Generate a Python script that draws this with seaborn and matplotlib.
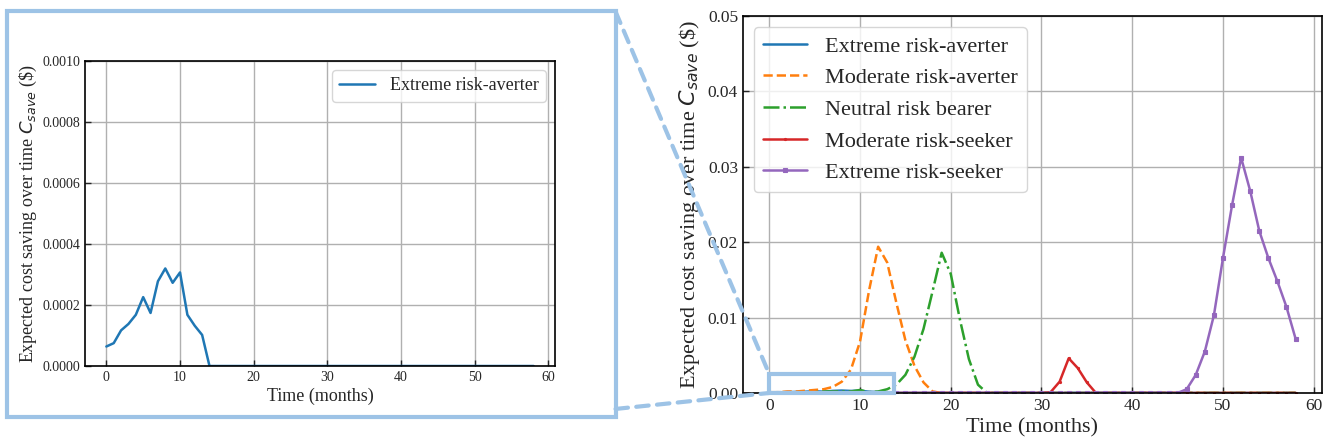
import matplotlib
matplotlib.use("Agg")
import matplotlib.pyplot as plt
from matplotlib.patches import Rectangle, ConnectionPatch
import seaborn as sns

sns.set_style("white")
plt.rcParams['font.family'] = ['Liberation Serif', 'DejaVu Sans']
plt.rcParams['mathtext.fontset'] = 'dejavusans'

months = list(range(59))

extreme_averter = [0.000064, 0.000075, 0.000117, 0.000138, 0.000168, 0.000226, 0.000174, 0.000278,
                   0.000320, 0.000273, 0.000307, 0.000168, 0.000132, 0.000102, 0.0, 0.0,
                   0.0, 0.0, 0.0, 0.0, 0.0, 0.0, 0.0, 0.0, 0.0, 0.0, 0.0, 0.0, 0.0, 0.0,
                   0.0, 0.0, 0.0, 0.0, 0.0, 0.0, 0.0, 0.0, 0.0, 0.0, 0.0, 0.0, 0.0, 0.0,
                   0.0, 0.0, 0.0, 0.0, 0.0, 0.0, 0.0, 0.0, 0.0, 0.0, 0.0, 0.0, 0.0, 0.0, 0.0]
moderate_averter = [0.0001, 0.0001, 0.0002, 0.0002, 0.0003, 0.0004, 0.0005, 0.0008, 0.0015, 0.0031,
                    0.0068, 0.0136, 0.0194, 0.0173, 0.0120, 0.0070, 0.0036, 0.0014, 0.0002, 0.0,
                    0.0, 0.0, 0.0, 0.0, 0.0, 0.0, 0.0, 0.0, 0.0, 0.0,
                    0.0, 0.0, 0.0, 0.0, 0.0, 0.0, 0.0, 0.0, 0.0, 0.0,
                    0.0, 0.0, 0.0, 0.0, 0.0, 0.0, 0.0, 0.0, 0.0, 0.0,
                    0.0, 0.0, 0.0, 0.0, 0.0, 0.0, 0.0, 0.0, 0.0]
neutral_bearer = [0.0001, 0.0001, 0.0001, 0.0001, 0.0001, 0.0001, 0.0002, 0.0002, 0.0002, 0.0002,
                  0.0004, 0.0001, 0.0002, 0.0005, 0.0011, 0.0024, 0.0048, 0.0085, 0.0135, 0.0186,
                  0.0158, 0.0098, 0.0045, 0.0011, 0.0, 0.0, 0.0, 0.0, 0.0, 0.0,
                  0.0, 0.0, 0.0, 0.0, 0.0, 0.0, 0.0, 0.0, 0.0, 0.0,
                  0.0, 0.0, 0.0, 0.0, 0.0, 0.0, 0.0, 0.0, 0.0, 0.0,
                  0.0, 0.0, 0.0, 0.0, 0.0, 0.0, 0.0, 0.0, 0.0]
moderate_seeker = [0.0, 0.0, 0.0, 0.0, 0.0, 0.0, 0.0, 0.0, 0.0, 0.0,
                   0.0, 0.0, 0.0, 0.0, 0.0, 0.0, 0.0, 0.0, 0.0, 0.0,
                   0.0, 0.0, 0.0, 0.0, 0.0, 0.0, 0.0, 0.0, 0.0, 0.0,
                   0.0, 0.0001, 0.0015, 0.0046, 0.0033, 0.0014, 0.0, 0.0, 0.0, 0.0,
                   0.0, 0.0, 0.0, 0.0, 0.0, 0.0, 0.0, 0.0, 0.0, 0.0,
                   0.0, 0.0, 0.0, 0.0, 0.0, 0.0, 0.0, 0.0, 0.0]
extreme_seeker = [0.0, 0.0, 0.0, 0.0, 0.0, 0.0, 0.0, 0.0, 0.0, 0.0,
                  0.0, 0.0, 0.0, 0.0, 0.0, 0.0, 0.0, 0.0, 0.0, 0.0,
                  0.0, 0.0, 0.0, 0.0, 0.0, 0.0, 0.0, 0.0, 0.0, 0.0,
                  0.0, 0.0, 0.0, 0.0, 0.0, 0.0, 0.0, 0.0, 0.0, 0.0,
                  0.0, 0.0, 0.0, 0.0, 0.0, 0.0, 0.0005, 0.0024, 0.0055, 0.0103,
                  0.0179, 0.0249, 0.0312, 0.0268, 0.0215, 0.0179, 0.0148, 0.0114, 0.0072]

labels = ["Extreme risk-averter", "Moderate risk-averter", "Neutral risk bearer",
          "Moderate risk-seeker", "Extreme risk-seeker"]
colors = ["#1f77b4", "#ff7f0e", "#2ca02c", "#d62728", "#9467bd"]
styles = ["-", "--", "-.", "-", "-"]
markers = [None, None, None, ".", "s"]
msizes = [0, 0, 0, 3, 3.5]
series = [extreme_averter, moderate_averter, neutral_bearer, moderate_seeker, extreme_seeker]

zoom_box = (13.7, 0.0025)  # inset window width (months) and height
box_color = "#9dc3e6"

fig = plt.figure(figsize=(13.3, 4.45), dpi=100)
ax1 = fig.add_axes([0.0639, 0.1775, 0.3534, 0.685])
ax2 = fig.add_axes([0.5586, 0.1169, 0.4353, 0.8472])

ylabel = r"Expected cost saving over time $C_{save}$ (\$)"


def style_axes(ax, tick_fs, xlabel_fs, ylabel_fs, ypad):
    ax.grid(True, color="#b0b0b0", linewidth=1.0)
    ax.set_axisbelow(True)
    for s in ax.spines.values():
        s.set_color("black")
        s.set_linewidth(1.2)
    ax.tick_params(direction="in", length=4, width=1, labelsize=tick_fs, pad=3.5,
                   left=True, bottom=True, top=False, right=False)
    ax.set_xlabel("Time (months)", fontsize=xlabel_fs, labelpad=3)
    ax.set_ylabel(ylabel, fontsize=ylabel_fs, labelpad=ypad)


# Left (zoomed) panel
sns.lineplot(x=months, y=extreme_averter, ax=ax1, color=colors[0], linewidth=1.8,
             label=labels[0], legend=False)
ax1.set_ylim(0, 0.001)
ax1.set_xlim(-2.9, 60.9)
ax1.set_yticks([0, 0.0002, 0.0004, 0.0006, 0.0008, 0.0010])
ax1.set_yticklabels(["0.0000", "0.0002", "0.0004", "0.0006", "0.0008", "0.0010"])
ax1.set_xticks([0, 10, 20, 30, 40, 50, 60])
style_axes(ax1, 10, 13, 13, 2)
ax1.legend(loc="upper right", fontsize=13, fancybox=True, framealpha=0.8)

# Right (full) panel
for vals, lab, col, ls, mk, ms in zip(series, labels, colors, styles, markers, msizes):
    kw = dict(color=col, linestyle=ls, linewidth=1.8, label=lab, legend=False)
    if mk is not None:
        kw.update(marker=mk, markersize=ms, markeredgewidth=0.8, markeredgecolor=col)
    sns.lineplot(x=months, y=vals, ax=ax2, **kw)
ax2.set_ylim(0, 0.05)
ax2.set_xlim(-2.9, 60.9)
ax2.set_yticks([0, 0.01, 0.02, 0.03, 0.04, 0.05])
ax2.set_yticklabels(["0.00", "0.01", "0.02", "0.03", "0.04", "0.05"])
ax2.set_xticks([0, 10, 20, 30, 40, 50, 60])
style_axes(ax2, 12.5, 16, 16, 4)
ax2.legend(loc="upper left", fontsize=16, fancybox=True, framealpha=0.8)

# inset indicator rectangle on the right panel
ax2.add_patch(Rectangle((0, 0), zoom_box[0], zoom_box[1], fill=False,
                        edgecolor=box_color, linewidth=3, zorder=5, clip_on=False))

# frame around the left panel
fig.add_artist(Rectangle((0.0056, 0.064), 0.4572, 0.9102, transform=fig.transFigure,
                         fill=False, edgecolor=box_color, linewidth=3))

# dashed connectors
for fy, dy in [(0.9742, zoom_box[1]), (0.081, 0.0)]:
    con = ConnectionPatch(xyA=(0.4628, fy), coordsA=fig.transFigure,
                          xyB=(0, dy), coordsB=ax2.transData,
                          color=box_color, linewidth=3, linestyle=(0, (3, 2)), zorder=10)
    fig.add_artist(con)

fig.savefig("out.png", dpi=100)
